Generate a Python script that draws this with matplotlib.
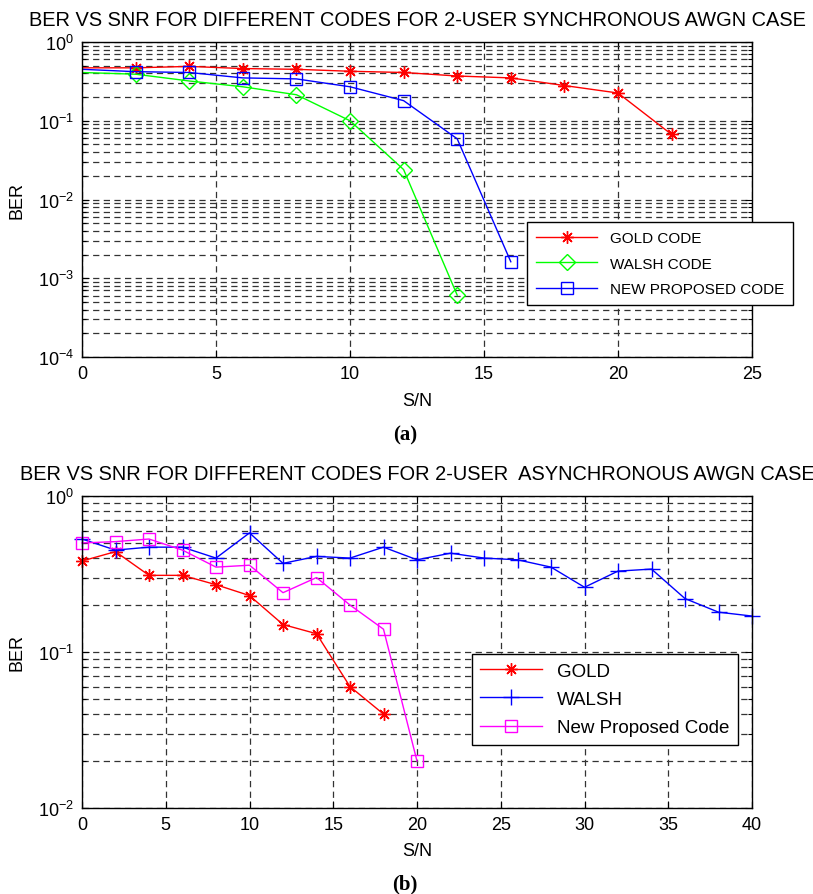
import matplotlib
matplotlib.use("Agg")
import matplotlib.pyplot as plt
from matplotlib.ticker import LogLocator, NullFormatter, MultipleLocator

plt.rcParams['font.family'] = ['Liberation Sans', 'DejaVu Sans']

# ---- Data: (a) synchronous ----
snr_a = [0, 2, 4, 6, 8, 10, 12, 14, 16, 18, 20, 22]
gold_a = [0.47, 0.47, 0.49, 0.46, 0.45, 0.425, 0.41, 0.37, 0.35, 0.28, 0.225, 0.067]
snr_walsh_a = [0, 2, 4, 6, 8, 10, 12, 14]
walsh_a = [0.41, 0.39, 0.32, 0.27, 0.214, 0.10, 0.024, 0.00061]
snr_new_a = [0, 2, 4, 6, 8, 10, 12, 14, 16]
new_a = [0.45, 0.42, 0.41, 0.35, 0.34, 0.27, 0.18, 0.059, 0.00162]

# ---- Data: (b) asynchronous ----
snr_gold_b = [0, 2, 4, 6, 8, 10, 12, 14, 16, 18]
gold_b = [0.383, 0.44, 0.31, 0.31, 0.27, 0.23, 0.15, 0.131, 0.06, 0.04]
snr_walsh_b = list(range(0, 41, 2))
walsh_b = [0.53, 0.45, 0.47, 0.47, 0.40, 0.58, 0.37, 0.41, 0.40, 0.47, 0.39,
           0.43, 0.40, 0.39, 0.35, 0.26, 0.33, 0.34, 0.22, 0.18, 0.17]
snr_new_b = [0, 2, 4, 6, 8, 10, 12, 14, 16, 18, 20]
new_b = [0.50, 0.51, 0.53, 0.45, 0.35, 0.36, 0.24, 0.30, 0.20, 0.14, 0.02]

title_a = "BER VS SNR FOR DIFFERENT CODES FOR 2-USER SYNCHRONOUS AWGN CASE"
title_b = "BER VS SNR FOR DIFFERENT CODES FOR 2-USER  ASYNCHRONOUS AWGN CASE"
legend_a = ["GOLD CODE", "WALSH CODE", "NEW PROPOSED CODE"]
legend_b = ["GOLD", "WALSH", "New Proposed Code"]

W, H = 813, 895
fig = plt.figure(figsize=(W / 100, H / 100), dpi=100)

def px_axes(l, t, r, b):
    return fig.add_axes([l / W, 1 - b / H, (r - l) / W, (b - t) / H])

ax1 = px_axes(82, 43, 752, 358)
ax2 = px_axes(82, 497, 752, 809)

star = (8, 2, 0)
grid_ls = (0, (5, 3.5))

def style(ax, xmax, xstep, ymin):
    ax.set_yscale('log')
    ax.set_xlim(0, xmax)
    ax.set_ylim(ymin, 1)
    ax.xaxis.set_major_locator(MultipleLocator(xstep))
    ax.yaxis.set_major_locator(LogLocator(base=10, numticks=10))
    ax.yaxis.set_minor_locator(LogLocator(base=10, subs=range(2, 10), numticks=20))
    ax.yaxis.set_minor_formatter(NullFormatter())
    ax.tick_params(which='both', direction='in', top=True, right=True, labelsize=13, pad=6)
    ax.tick_params(which='major', length=5, width=0.8)
    ax.tick_params(which='minor', length=3, width=0.8)
    ax.grid(True, which='major', axis='both', color='0.2', lw=0.9, ls=grid_ls)
    ax.grid(True, which='minor', axis='y', color='0.2', lw=0.9, ls=grid_ls)
    for s in ax.spines.values():
        s.set_linewidth(1.0)
    ax.set_xlabel('S/N', fontsize=13)
    ax.set_ylabel('BER', fontsize=13)

style(ax1, 25, 5, 1e-4)
style(ax2, 40, 5, 1e-2)

# (a)
ax1.plot(snr_a, gold_a, color='red', lw=1, marker=star, ms=9, mew=1,
         markevery=range(1, len(snr_a)), label=legend_a[0])
ax1.plot(snr_walsh_a, walsh_a, color='#00ff00', lw=1, marker='D', ms=8, mew=1,
         mfc='none', markevery=range(1, len(snr_walsh_a)), label=legend_a[1])
ax1.plot(snr_new_a, new_a, color='blue', lw=1, marker='s', ms=9, mew=1,
         mfc='none', markevery=range(1, len(snr_new_a)), label=legend_a[2])

# (b)
ax2.plot(snr_gold_b, gold_b, color='red', lw=1, marker=star, ms=9, mew=1, label=legend_b[0], clip_on=False)
ax2.plot(snr_walsh_b, walsh_b, color='blue', lw=1, marker='+', ms=11, mew=1, label=legend_b[1], clip_on=False)
ax2.plot(snr_new_b, new_b, color='magenta', lw=1, marker='s', ms=9, mew=1, mfc='none',
         label=legend_b[2], clip_on=False)

ax1.set_title(title_a, fontsize=14.4, pad=12)
ax2.set_title(title_b, fontsize=14.4, pad=12)

for ax in (ax1, ax2):
    ax.yaxis.set_label_coords(-0.084, 0.5)
ax1.xaxis.set_label_coords(0.5, -0.11)
ax2.xaxis.set_label_coords(0.5, -0.11)

leg1 = ax1.legend(loc='upper left', bbox_to_anchor=(527 / W, 1 - 223 / H),
                  bbox_transform=fig.transFigure, fontsize=11, handlelength=4.0,
                  labelspacing=0.75, borderpad=0.6, borderaxespad=0, fancybox=False,
                  framealpha=1, edgecolor='black')
leg1.get_frame().set_linewidth(1.0)
leg2 = ax2.legend(loc='upper left', bbox_to_anchor=(472 / W, 1 - 655 / H),
                  bbox_transform=fig.transFigure, fontsize=13.5, handlelength=3.3,
                  labelspacing=0.6, borderpad=0.45, borderaxespad=0, fancybox=False,
                  framealpha=1, edgecolor='black')
leg2.get_frame().set_linewidth(1.0)

fig.text(405 / W, 1 - 435 / H, '(a)', ha='center', va='center', fontsize=15,
         fontweight='bold', family=['Liberation Serif'])
fig.text(405 / W, 1 - 884 / H, '(b)', ha='center', va='center', fontsize=15,
         fontweight='bold', family=['Liberation Serif'])

fig.savefig('out.png', dpi=100)
